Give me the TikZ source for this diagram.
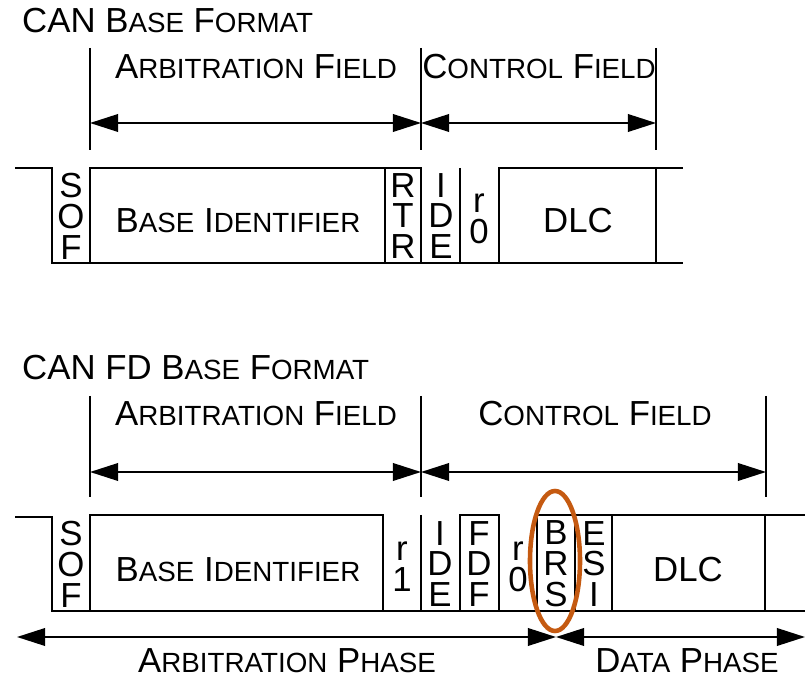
\documentclass[tikz,border=0pt]{standalone}
\usepackage{fontspec}
\setmainfont{Liberation Sans}
\usetikzlibrary{arrows.meta}
\definecolor{ink}{HTML}{000000}
\definecolor{brsring}{HTML}{C55A11}
% fake small caps: big first letter, smaller capitals after it
\newcommand\smc[2]{#1{\fontsize{15.8}{15}\selectfont#2}}

\begin{document}
\begin{tikzpicture}[x=0.02cm,y=-0.02cm,font=\fontsize{19.8}{17.6}\selectfont,text=ink,
  wave/.style={ink,line width=1.4pt},
  tick/.style={ink,line width=0.9pt},
  span/.style={{Triangle[length=16pt,width=10pt]}-{Triangle[length=16pt,width=10pt]},line width=1.1pt},
  bits/.style={align=center,inner sep=0pt}]
  \useasboundingbox (0,0) rectangle (805,678);

  % CAN base format
  \node[anchor=west] (title1) at (16,21) {CAN \smc{B}{ASE} \smc{F}{ORMAT}};
  \foreach \x/\n in {90/a,421/b,656/c}
    \draw[tick] (\x,48) -- (\x,123) coordinate (u\n) -- (\x,150);
  \draw[span] (ua) -- (ub);
  \draw[span] (ub) -- (uc);
  \node (arb1) at (256,67) {\smc{A}{RBITRATION} \smc{F}{IELD}};
  \node (ctl1) at (539,67) {\smc{C}{ONTROL} \smc{F}{IELD}};

  \draw[wave] (15,168) -| (52,263) -- (683,263);
  \draw[wave] (90,263) |- (421,168) -- (421,263);
  \draw[wave] (385,168) -- (385,263);
  \draw[wave] (460,168) -- (460,263);
  \draw[wave] (499,263) |- (683,168);
  \draw[wave] (656,168) -- (656,263);

  \node[bits] (sof1) at (71,216) {S\\O\\F};
  \node (id1) at (238,221) {\smc{B}{ASE} \smc{I}{DENTIFIER}};
  \node[bits] (rtr1) at (403,216) {R\\T\\R};
  \node[bits] (ide1) at (441,216) {I\\D\\E};
  \node[bits] (rzero1) at (479,219) {r\\0};
  \node (dlc1) at (578,221) {DLC};

  % CAN FD base format
  \node[anchor=west] (title2) at (16,368) {CAN FD \smc{B}{ASE} \smc{F}{ORMAT}};
  \foreach \x/\n in {90/a,421/b,766/c}
    \draw[tick] (\x,396) -- (\x,472) coordinate (l\n) -- (\x,497);
  \draw[span] (la) -- (lb);
  \draw[span] (lb) -- (lc);
  \node (arb2) at (256,414) {\smc{A}{RBITRATION} \smc{F}{IELD}};
  \node (ctl2) at (595,414) {\smc{C}{ONTROL} \smc{F}{IELD}};

  \draw[wave] (15,517) -| (52,611) -- (805,611);
  \draw[wave] (90,611) |- (383,515) -- (383,611);
  \draw[wave] (421,515) -- (421,611);
  \draw[wave] (460,611) |- (499,515) -- (499,611);
  \draw[wave] (537,611) |- (805,515);
  \foreach \x in {575,612,765}
    \draw[wave] (\x,515) -- (\x,611);

  \node[bits] (sof2) at (71,564) {S\\O\\F};
  \node (id2) at (238,570) {\smc{B}{ASE} \smc{I}{DENTIFIER}};
  \node[bits] (rone2) at (402,567) {r\\1};
  \node[bits] (ide2) at (440,564) {I\\D\\E};
  \node[bits] (fdf2) at (479,564) {F\\D\\F};
  \node[bits] (rzero2) at (518,567) {r\\0};
  \node[bits] (brs2) at (556,564) {B\\R\\S};
  \node[bits] (esi2) at (594,564) {E\\S\\I};
  \node (dlc2) at (688,570) {DLC};

  \draw[brsring,line width=2.6pt] (555,561) ellipse [x radius=25,y radius=70];

  % phases
  \coordinate (pa) at (17,637);
  \coordinate (pb) at (556,637);
  \coordinate (pc) at (805,637);
  \draw[span] (pa) -- (pb);
  \draw[span] (pb) -- (pc);
  \node[anchor=base,inner sep=1pt] (arbph) at (287,673) {\smc{A}{RBITRATION} \smc{P}{HASE}};
  \node[anchor=base,inner sep=1pt] (dataph) at (687,673) {\smc{D}{ATA} \smc{P}{HASE}};
\end{tikzpicture}
\end{document}
